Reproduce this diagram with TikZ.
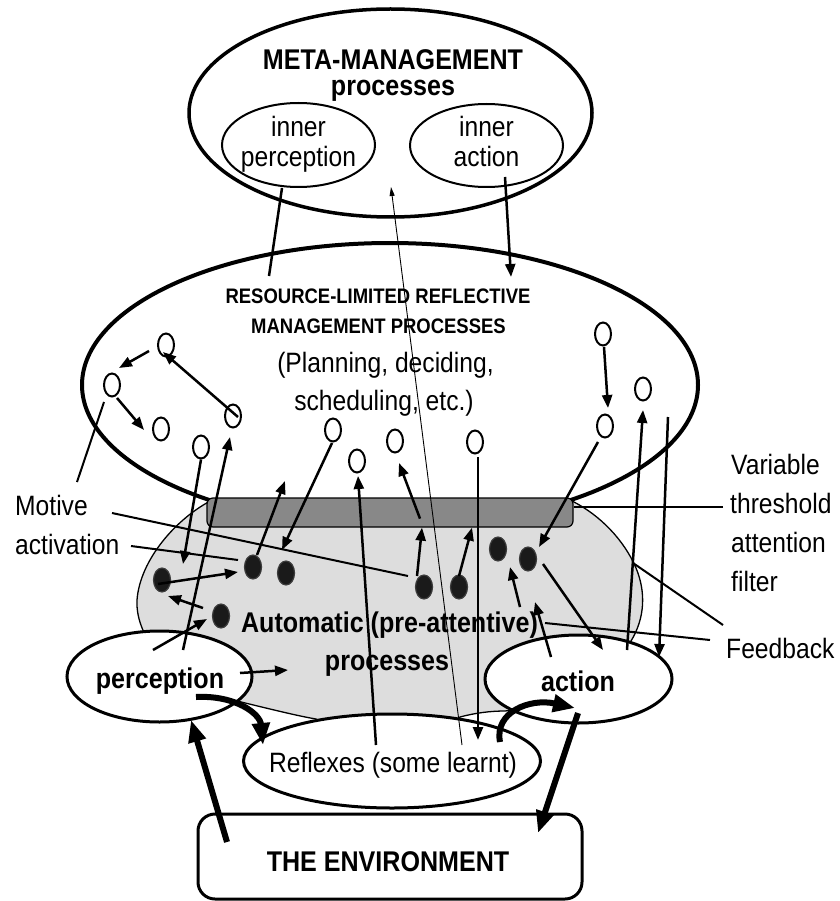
\documentclass[tikz,border=0pt]{standalone}
\usepackage{fontspec}
\setmainfont{Liberation Sans}[FakeStretch=0.88]
\usetikzlibrary{shapes.geometric,arrows.meta,calc}
\definecolor{blobgrey}{HTML}{DDDDDD}
\definecolor{bargrey}{HTML}{888888}
\definecolor{dotfill}{HTML}{1A1A1A}
\definecolor{dotedge}{HTML}{3C3C3C}
\begin{document}
\begin{tikzpicture}[x=1pt,y=-1pt,
  bfbig/.style={font=\fontsize{28.5}{30}\selectfont\bfseries, anchor=base, inner sep=0pt},
  rgbig/.style={font=\fontsize{28}{30}\selectfont, anchor=base, inner sep=0pt},
  bfsmall/.style={font=\fontsize{21}{24}\selectfont\bfseries, anchor=base, inner sep=0pt},
  lab/.style={rgbig, anchor=base west},
  oval/.style={ellipse, draw, fill=white, inner sep=0pt},
  sc/.style={ellipse, draw, fill=white, line width=2pt, minimum width=16pt, minimum height=23pt, inner sep=0pt},
  bd/.style={ellipse, draw=dotedge, fill=dotfill, line width=1.2pt, minimum width=17pt, minimum height=24pt, inner sep=0pt},
  arr/.style={line width=2.5pt, -{Triangle[length=13pt,width=10pt]}},
  ptr/.style={line width=2pt},
  fat/.style={line width=6pt, -{Triangle[length=22pt,width=17pt]}},
  faint/.style={line width=0.9pt, -{Triangle[length=9pt,width=5pt]}},
]
\useasboundingbox (0,0) rectangle (839,901);

% reflective layer and meta-management layer
\node[ellipse, draw, line width=4pt, minimum width=616pt, minimum height=284pt, inner sep=0pt] (refl) at (390,385) {};
\node[ellipse, draw, line width=3.5pt, minimum width=403pt, minimum height=208pt, inner sep=0pt] (meta) at (390.5,113) {};
\node[oval, line width=2pt, minimum width=153pt, minimum height=84pt] (ip) at (298.5,145) {};
\node[oval, line width=2pt, minimum width=153pt, minimum height=83pt] (ia) at (486.5,145.5) {};

% automatic (pre-attentive) region
\path[draw, fill=blobgrey, line width=1.3pt]
  (214,499) .. controls (176,518) and (140,560) .. (137,600)
  .. controls (135,640) and (175,685) .. (237,701)
  .. controls (270,709) and (298,716) .. (316,719)
  -- (335,730) -- (450,730) -- (460,717)
  .. controls (475,713) and (490,711) .. (505,711)
  -- (600,700) -- (631,641)
  .. controls (645,618) and (646,592) .. (636,568)
  .. controls (624,540) and (600,515) .. (572,501)
  -- cycle;

% attention filter
\node[draw, fill=bargrey, line width=1.2pt, rounded corners=6pt, minimum width=366pt, minimum height=29pt, inner sep=0pt] (bar) at (390,512.5) {};

% perception, action, reflexes, environment
\node[oval, line width=3pt, minimum width=185pt, minimum height=91pt] (perc) at (159.5,676.5) {};
\node[oval, line width=3pt, minimum width=187pt, minimum height=88pt] (act) at (578.5,679) {};
\node[oval, line width=3pt, minimum width=297pt, minimum height=94pt] (refx) at (392,761) {};
\node[draw, fill=white, line width=3pt, rounded corners=17pt, minimum width=384pt, minimum height=85pt, inner sep=0pt] (env) at (390,856.5) {};

% management processes (small circles)
\node[sc] (c1) at (166,345) {};
\node[sc] (c2) at (112,385) {};
\node[sc] (c3) at (161,429) {};
\node[sc] (c4) at (201,447) {};
\node[sc] (c5) at (233,416) {};
\node[sc] (c6) at (333,430) {};
\node[sc] (c7) at (357,461) {};
\node[sc] (c8) at (395,441) {};
\node[sc] (c9) at (603,334) {};
\node[sc] (c10) at (605,426) {};
\node[sc] (c11) at (643,389) {};
\node[sc] (c12) at (475,442) {};

% automatic processes (black dots)
\node[bd] (d1) at (162,580) {};
\node[bd] (d2) at (253,567) {};
\node[bd] (d3) at (286,573) {};
\node[bd] (d4) at (221,616) {};
\node[bd] (d5) at (424,587) {};
\node[bd] (d6) at (459,587) {};
\node[bd] (d7) at (498,549) {};
\node[bd] (d8) at (528,559) {};

% free ends
\coordinate (pout) at (288,670);
\coordinate (d2up) at (285,481);
\coordinate (rtop) at (668,417);
\coordinate (fbk) at (520,607);
\coordinate (aup) at (535,602);
\coordinate (ipend) at (269,276);
\coordinate (iaend) at (511,277);
\coordinate (mot1) at (77,482);
\coordinate (mot2) at (112,513);
\coordinate (mot3) at (131,546);
\coordinate (thr) at (723,507);
\coordinate (fb1) at (710,640);
\coordinate (fb1e) at (545,623);
\coordinate (fb2) at (723,625);
\coordinate (fb2e) at (633,563);

% links between meta-management and reflective layer
\draw[ptr, line width=2.5pt] ($(ip)+(-16.5,43)$) -- (ipend);
\draw[arr] ($(ia)+(18.5,31.5)$) -- (iaend);

% links inside the reflective layer
\draw[arr] ($(c1)+(-17,6)$) -- ($(c2)+(7,-17)$);
\draw[arr] ($(c5)+(5,1)$) -- ($(c1)+(-3,7)$);
\draw[arr] ($(c2)+(5,13)$) -- ($(c3)+(-17,1)$);
\draw[arr] ($(c9)+(1,13)$) -- ($(c10)+(3,-18)$);

% links across the filter
\draw[arr] (c4.south) -- ($(d1)+(21,-16)$);
\draw[arr] ($(perc)+(23.5,-26.5)$) -- ($(c5)+(-3,21)$);
\draw[arr] ($(d1)+(-4,4)$) -- ($(d2)+(-15,5)$);
\draw[arr] ($(d4)+(-18,-8)$) -- ($(d1)+(6,16)$);
\draw[arr] ($(perc)+(-6.5,-26.5)$) -- ($(d4)+(-14,3)$);
\draw[arr] ($(perc)+(80.5,-3.5)$) -- (pout);
\draw[arr] ($(d2)+(4,-12)$) -- (d2up);
\draw[arr] ($(c6)+(-1,13)$) -- ($(d3)+(-4,-23)$);
\draw[arr] ($(refx)+(-16,-16)$) -- ($(c7)+(1,15)$);
\draw[arr] ($(d5)+(-7,-11)$) -- ($(bar.south)+(32,0)$);
\draw[arr] ($(bar.south)+(30,-9)$) -- ($(c8)+(4,22)$);
\draw[arr] ($(d6)+(0,-11)$) -- ($(bar.south)+(82,0)$);
\draw[arr] ($(c12)+(3,15)$) -- ($(refx)+(86,-21)$);
\draw[faint] ($(refx)+(70,-16)$) -- ($(meta)+(0.5,74)$);
\draw[arr] ($(c10)+(-7,16)$) -- ($(d8)+(11,-12)$);
\draw[arr] ($(act)+(48.5,-29)$) -- ($(c11)+(0,21)$);
\draw[arr] (rtop) -- ($(act)+(80.5,-22)$);
\draw[arr] ($(d8)+(15,5)$) -- ($(act)+(24.5,-29)$);
\draw[arr] (fbk) -- ($(d7)+(12,18)$);
\draw[arr] ($(act)+(-27.5,-22)$) -- (aup);

% label pointers
\draw[ptr] (mot1) -- ($(c2)+(-8,17)$);
\draw[ptr] (mot2) -- ($(d5)+(-16,-11)$);
\draw[ptr] (mot3) -- ($(d2)+(-15,-7)$);
\draw[ptr] (thr) -- ($(bar.east)+(0,-5.5)$);
\draw[ptr] (fb1) -- (fb1e);
\draw[ptr] (fb2) -- (fb2e);

% sensing, reflexes and acting
\draw[fat] ($(perc)+(36.5,20.5)$) .. controls (236,695) and (260,714) .. ($(refx)+(-129,-16)$);
\draw[fat] ($(refx)+(108,-19)$) .. controls (494,712) and (530,698) .. ($(act)+(-3.5,29)$);
\draw[fat] ($(act)+(-0.5,34)$) -- ($(env)+(148,-23.5)$);
\draw[fat] ($(env)+(-163,-14.5)$) -- ($(perc)+(31.5,43.5)$);

% texts
\node[bfbig] (tm1) at (393,70) {META-MANAGEMENT};
\node[bfbig] (tm2) at (393,96) {processes};
\node[rgbig] (tip1) at (298.5,137) {inner};
\node[rgbig] (tip2) at (298.5,167) {perception};
\node[rgbig] (tia1) at (486.5,137) {inner};
\node[rgbig] (tia2) at (486.5,167) {action};
\node[bfsmall] (tr1) at (378,303) {RESOURCE-LIMITED REFLECTIVE};
\node[bfsmall] (tr2) at (378.5,333) {MANAGEMENT PROCESSES};
\node[rgbig] (tr3) at (385.5,372) {(Planning, deciding,};
\node[rgbig] (tr4) at (384,410) {scheduling, etc.)};
\node[bfbig] (ta1) at (389.5,632) {Automatic (pre-attentive)};
\node[bfbig] (ta2) at (387,670) {processes};
\node[bfbig] (tp) at (160,688) {perception};
\node[bfbig] (tac) at (578,691) {action};
\node[rgbig] (trx) at (393,772) {Reflexes (some learnt)};
\node[bfbig] (tenv) at (388,871) {THE ENVIRONMENT};
\node[lab] (lm1) at (15,515) {Motive};
\node[lab] (lm2) at (15,554) {activation};
\node[lab] (lv1) at (731,474) {Variable};
\node[lab] (lv2) at (730,513) {threshold};
\node[lab] (lv3) at (731,552) {attention};
\node[lab] (lv4) at (731,591) {filter};
\node[lab] (lfb) at (726,658) {Feedback};
\end{tikzpicture}
\end{document}
